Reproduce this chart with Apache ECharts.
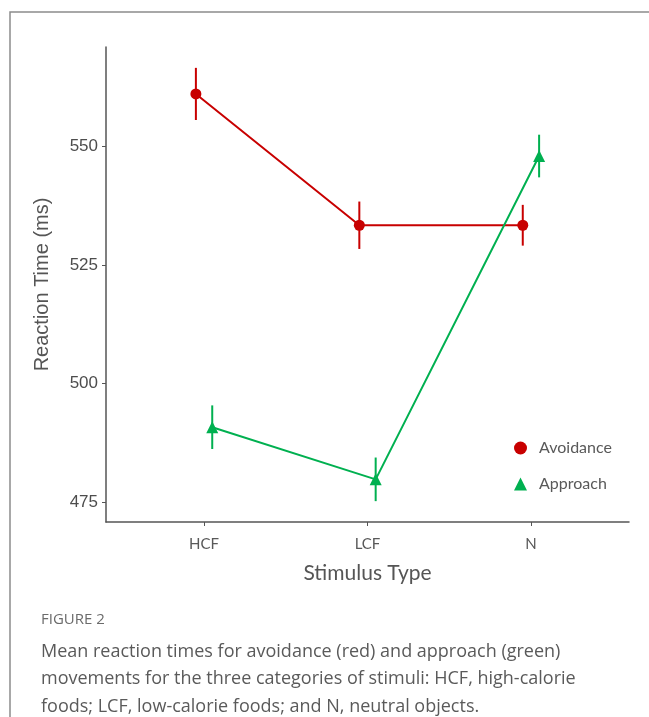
<!DOCTYPE html>
<html>
<head>
<meta charset="utf-8">
<script src="https://cdn.jsdelivr.net/npm/echarts@6/dist/echarts.min.js"></script>
<style>
  html, body { margin: 0; padding: 0; background: #fff; }
  #chart { width: 649px; height: 717px; }
</style>
</head>
<body>
<div id="chart"></div>
<script>
// stimulus categories
const categories = ['HCF', 'LCF', 'N']
const yTicks = [475, 500, 525, 550]

// mean reaction times (ms) and error half-widths
const avoidMean = [561.1, 533.4, 533.4]
const avoidErr = [5.5, 5.0, 4.3]
const approachMean = [490.8, 479.8, 548.0]
const approachErr = [4.6, 4.6, 4.5]

const dodge = 0.05
const red = '#c80000'
const green = '#00b050'
const axisColor = '#555'

const chart = echarts.init(document.getElementById('chart'))

function pts(means, offset) {
  return means.map((v, i) => [i + 1 + offset, v])
}
function bars(means, errs, offset) {
  return means.map((v, i) => [i + 1 + offset, v - errs[i], v + errs[i]])
}

// vertical error bar
function errorBar(color) {
  return function (params, api) {
    const lo = api.coord([api.value(0), api.value(1)])
    const hi = api.coord([api.value(0), api.value(2)])
    return {
      type: 'line',
      shape: { x1: lo[0], y1: lo[1], x2: hi[0], y2: hi[1] },
      style: { stroke: color, lineWidth: 2 }
    }
  }
}

chart.setOption({
  animation: false,
  grid: { left: 106, top: 47, right: 20, bottom: 195 },
  xAxis: {
    type: 'value', min: 0.4, max: 3.6,
    name: 'Stimulus Type', nameLocation: 'middle', nameGap: 41,
    nameTextStyle: { fontFamily: 'Lato', fontSize: 21, color: axisColor },
    splitLine: { show: false },
    axisLine: { lineStyle: { color: axisColor, width: 1.5 } },
    axisTick: { show: true, length: 4, customValues: [1, 2, 3], lineStyle: { color: axisColor } },
    axisLabel: {
      customValues: [1, 2, 3], margin: 15,
      formatter: v => categories[Math.round(v) - 1] || '',
      fontFamily: 'Lato', fontSize: 15, color: '#595959'
    }
  },
  yAxis: {
    type: 'value', min: 470.8, max: 571,
    name: 'Reaction Time (ms)', nameLocation: 'middle', nameGap: 54,
    nameTextStyle: { fontFamily: 'Liberation Sans', fontSize: 20, color: axisColor },
    splitLine: { show: false },
    axisLine: { show: true, lineStyle: { color: axisColor, width: 1.5 } },
    axisTick: { show: true, length: 4, customValues: yTicks, lineStyle: { color: axisColor } },
    axisLabel: {
      customValues: yTicks, margin: 8,
      fontFamily: 'Liberation Sans', fontSize: 17, color: '#4d4d4d'
    }
  },
  legend: {
    orient: 'vertical', left: 509, top: 435,
    itemWidth: 13, itemHeight: 13, itemGap: 20,
    textStyle: { fontFamily: 'Lato', fontSize: 16, color: '#595959', padding: [0, 0, 0, 7] },
    data: [
      { name: 'Avoidance', icon: 'circle' },
      { name: 'Approach', icon: 'triangle' }
    ]
  },
  series: [
    {
      type: 'custom', name: 'avoidErr', renderItem: errorBar(red),
      data: bars(avoidMean, avoidErr, -dodge), z: 2
    },
    {
      type: 'line', name: 'Avoidance', data: pts(avoidMean, -dodge),
      symbol: 'circle', symbolSize: 11,
      itemStyle: { color: red }, lineStyle: { color: red, width: 2 }, z: 3
    },
    {
      type: 'custom', name: 'approachErr', renderItem: errorBar(green),
      data: bars(approachMean, approachErr, dodge), z: 4
    },
    {
      type: 'line', name: 'Approach', data: pts(approachMean, dodge),
      symbol: 'triangle', symbolSize: 12,
      itemStyle: { color: green }, lineStyle: { color: green, width: 2 }, z: 5
    }
  ],
  graphic: [
    {
      type: 'rect', silent: true,
      shape: { x: 10, y: 12, width: 700, height: 760 },
      style: { fill: 'none', stroke: '#8c8c8c', lineWidth: 1.5 }
    },
    {
      type: 'text', left: 41, top: 612,
      style: { text: 'FIGURE 2', fontFamily: 'Open Sans', fontSize: 15, fill: '#6b6b6b' }
    },
    {
      type: 'text', left: 41, top: 638,
      style: {
        text: 'Mean reaction times for avoidance (red) and approach (green)\nmovements for the three categories of stimuli: HCF, high-calorie\nfoods; LCF, low-calorie foods; and N, neutral objects.',
        fontFamily: 'Open Sans', fontSize: 18, lineHeight: 27.5, fill: '#5a5a5a'
      }
    }
  ]
})
</script>
</body>
</html>
